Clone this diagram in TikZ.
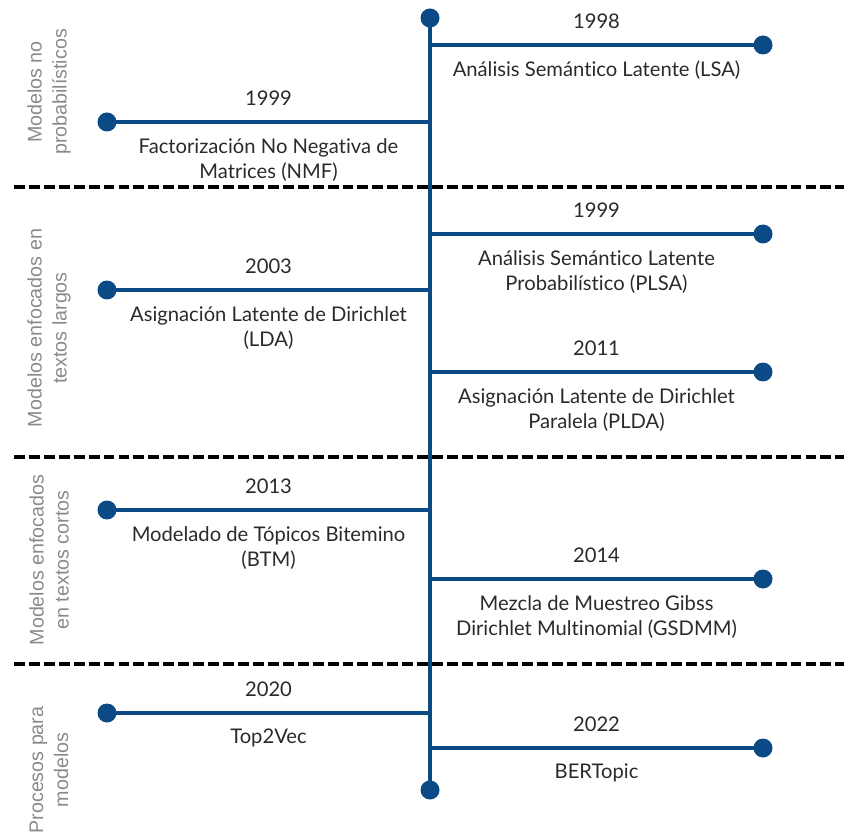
\documentclass[tikz,border=0pt]{standalone}
\usepackage{fontspec}
\setmainfont{Lato}[Ligatures=NoCommon]
\newfontfamily\sidefont{Liberation Sans}
\definecolor{lineblue}{HTML}{0B4A85}
\definecolor{sidegray}{HTML}{8A8A8A}
\definecolor{textgray}{HTML}{2A2A2A}

\begin{document}
\begin{tikzpicture}[x=0.02cm, y=-0.02cm,
    dot/.style={circle, fill=lineblue, inner sep=0pt, minimum size=0.38cm},
    branch/.style={draw=lineblue, line width=2.6pt},
    year/.style={midway, yshift=0.48cm, text=textgray, font=\fontsize{11.5}{14.2}\selectfont},
    desc/.style={midway, below=4.6pt, align=center, text=textgray, font=\fontsize{11.5}{14.2}\selectfont},
    group/.style={rotate=90, align=center, text=sidegray, font=\sidefont\fontsize{11.2}{14.2}\selectfont},
    divider/.style={black, line width=2.3pt, dash pattern=on 6.2pt off 2.3pt}]
    \useasboundingbox (0,0) rectangle (844,837);

    % group separators
    \coordinate (sep1 left)  at (14,187);
    \coordinate (sep1 right) at (844,187);
    \coordinate (sep2 left)  at (14,457);
    \coordinate (sep2 right) at (844,457);
    \coordinate (sep3 left)  at (14,664);
    \coordinate (sep3 right) at (844,664);
    \draw[divider] (sep1 left) -- (sep1 right);
    \draw[divider] (sep2 left) -- (sep2 right);
    \draw[divider] (sep3 left) -- (sep3 right);

    % group names
    \node[group] (no prob)    at (49,92)  {Modelos no\\probabilísticos};
    \node[group] (long texts) at (49,328) {Modelos enfocados en\\textos largos};
    \node[group] (short texts) at (49,560) {Modelos enfocados\\en textos cortos};
    \node[group] (processes)  at (49,770) {Procesos para\\modelos};

    % spine
    \node[dot] (spine top)    at (430,18)  {};
    \node[dot] (spine bottom) at (430,790) {};
    \draw[branch] (spine top.center) -- (spine bottom.center);

    % roots on the spine
    \coordinate (lsa root)    at (430,45);
    \coordinate (nmf root)    at (430,122);
    \coordinate (plsa root)   at (430,234);
    \coordinate (lda root)    at (430,290);
    \coordinate (plda root)   at (430,372);
    \coordinate (btm root)    at (430,510);
    \coordinate (gsdmm root)  at (430,579);
    \coordinate (top2vec root) at (430,713);
    \coordinate (bertopic root) at (430,748);

    % ends of the branches
    \node[dot] (lsa dot)      at (763,45)  {};
    \node[dot] (nmf dot)      at (107,122) {};
    \node[dot] (plsa dot)     at (763,234) {};
    \node[dot] (lda dot)      at (107,290) {};
    \node[dot] (plda dot)     at (763,372) {};
    \node[dot] (btm dot)      at (107,510) {};
    \node[dot] (gsdmm dot)    at (763,579) {};
    \node[dot] (top2vec dot)  at (107,713) {};
    \node[dot] (bertopic dot) at (763,748) {};

    \draw[branch] (lsa root) -- (lsa dot.center) node[year] {1998}
      node[desc] {Análisis Semántico Latente (LSA)};
    \draw[branch] (nmf root) -- (nmf dot.center) node[year] {1999}
      node[desc] {Factorización No Negativa de\\Matrices (NMF)};
    \draw[branch] (plsa root) -- (plsa dot.center) node[year] {1999}
      node[desc] {Análisis Semántico Latente\\Probabilístico (PLSA)};
    \draw[branch] (lda root) -- (lda dot.center) node[year] {2003}
      node[desc] {Asignación Latente de Dirichlet\\(LDA)};
    \draw[branch] (plda root) -- (plda dot.center) node[year] {2011}
      node[desc] {Asignación Latente de Dirichlet\\Paralela (PLDA)};
    \draw[branch] (btm root) -- (btm dot.center) node[year] {2013}
      node[desc] {Modelado de Tópicos Bitemino\\(BTM)};
    \draw[branch] (gsdmm root) -- (gsdmm dot.center) node[year] {2014}
      node[desc] {Mezcla de Muestreo Gibss\\Dirichlet Multinomial (GSDMM)};
    \draw[branch] (top2vec root) -- (top2vec dot.center) node[year] {2020}
      node[desc] {Top2Vec};
    \draw[branch] (bertopic root) -- (bertopic dot.center) node[year] {2022}
      node[desc] {BERTopic};
\end{tikzpicture}
\end{document}
